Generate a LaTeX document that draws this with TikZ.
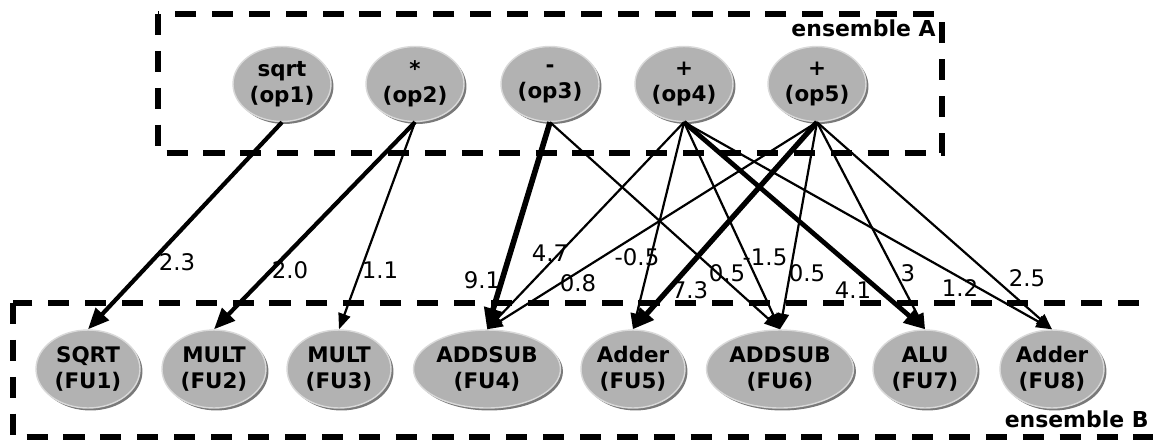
\documentclass[tikz,border=0pt]{standalone}
\usepackage{fontspec}
\setmainfont{DejaVu Sans}
\usetikzlibrary{shapes.geometric,shadows,arrows.meta}

\tikzset{
  opnode/.style={ellipse, fill=gray!60, draw=gray!30, line width=0.8pt,
    minimum width=1.96cm, minimum height=1.5cm, inner sep=0pt, align=center,
    font=\fontsize{12.2}{15}\selectfont\bfseries,
    drop shadow={shadow xshift=1.4pt, shadow yshift=-1.4pt, fill=gray!95!black, opacity=1}},
  funode/.style={opnode, minimum width=2.08cm, minimum height=1.56cm},
  widenode/.style={funode, minimum width=2.94cm},
  wire/.style={-{Triangle[length=9pt,width=7pt]}, line width=1.25pt},
  heavy/.style={-{Triangle[length=12pt,width=10pt]}, line width=2.4pt},
  boxline/.style={line width=3.2pt, dash pattern=on 12pt off 9pt},
  wlabel/.style={font=\fontsize{13}{15}\selectfont, inner sep=0pt},
  tag/.style={font=\fontsize{12.5}{15}\selectfont\bfseries, inner sep=0pt}
}

\begin{document}
\begin{tikzpicture}[x=0.02cm,y=-0.02cm]
    \useasboundingbox (0,0) rectangle (1153,441);
    \clip (0,0) rectangle (1153,441);

    % the two sets
    \draw [boxline] (158,14) rectangle (942,153);
    \draw [boxline] (13,303) rectangle (1180,437);
    \node [tag,anchor=east] (tagA) at (936,28) {ensemble A};
    \node [tag,anchor=east] (tagB) at (1149,419) {ensemble B};

    % operations
    \node [opnode] (op1) at (282,84) {sqrt\\(op1)};
    \node [opnode] (op2) at (415,84) {*\\(op2)};
    \node [opnode] (op3) at (550,84) {-\\(op3)};
    \node [opnode] (op4) at (684,84) {+\\(op4)};
    \node [opnode] (op5) at (817,84) {+\\(op5)};

    % functional units
    \node [funode] (fu1) at (88,369) {SQRT\\(FU1)};
    \node [funode] (fu2) at (214,369) {MULT\\(FU2)};
    \node [funode] (fu3) at (339,369) {MULT\\(FU3)};
    \node [widenode] (fu4) at (487,369) {ADDSUB\\(FU4)};
    \node [funode] (fu5) at (633,369) {Adder\\(FU5)};
    \node [widenode] (fu6) at (780,369) {ADDSUB\\(FU6)};
    \node [funode] (fu7) at (925,369) {ALU\\(FU7)};
    \node [funode] (fu8) at (1052,369) {Adder\\(FU8)};

    % bindings
    \foreach \a/\b in {op2/fu3, op3/fu6, op4/fu4, op4/fu5, op4/fu6, op4/fu8,
                       op5/fu4, op5/fu6, op5/fu7, op5/fu8}
      \draw [wire] (\a.south) -- (\b.north);
    \draw [heavy] (op1.south) -- (fu1.north);
    \draw [heavy] (op2.south) -- (fu2.north);
    \draw [heavy,line width=2.7pt] (op4.south) -- (fu7.north);
    \draw [heavy,line width=3pt] (op5.south) -- (fu5.north);
    \draw [heavy,line width=3.2pt] (op3.south) -- (fu4.north);

    % weights
    \node [wlabel] (w11) at (177,262) {2.3};
    \node [wlabel] (w22) at (290,270) {2.0};
    \node [wlabel] (w23) at (380,270) {1.1};
    \node [wlabel] (w34) at (482,280) {9.1};
    \node [wlabel] (w44) at (550,253) {4.7};
    \node [wlabel] (w54) at (578,283) {0.8};
    \node [wlabel] (w45) at (637,257) {-0.5};
    \node [wlabel] (w55) at (690,290) {7.3};
    \node [wlabel] (w36) at (727,273) {0.5};
    \node [wlabel] (w46) at (765,257) {-1.5};
    \node [wlabel] (w56) at (807,273) {0.5};
    \node [wlabel] (w47) at (853,290) {4.1};
    \node [wlabel] (w57) at (908,273) {3};
    \node [wlabel] (w48) at (960,288) {1.2};
    \node [wlabel] (w58) at (1027,278) {2.5};
\end{tikzpicture}
\end{document}
